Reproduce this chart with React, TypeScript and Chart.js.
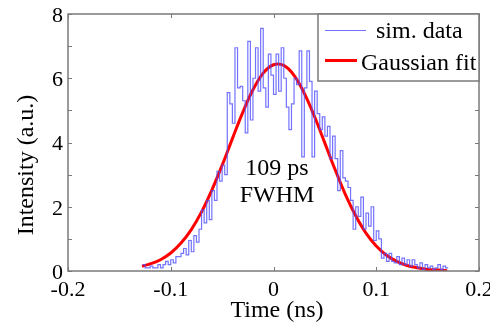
import React, { useEffect, useRef } from 'react';
import { Chart, registerables } from 'chart.js';

Chart.register(...registerables);

// Histogram ("sim. data"): bins start at HIST_START, width HIST_BIN (ns)
const HIST_START = -0.1275;
const HIST_BIN = 0.0025;
const histCounts = [
  0.2, 0.1, 0.1, 0.15, 0.1, 0.1, 0.2, 0.1, 0.2, 0.3,
  0.2, 0.35, 0.25, 0.45, 0.45, 0.55, 0.7, 0.5, 0.95, 0.6,
  1.1, 0.9, 1.3, 1.9, 1.5, 2.2, 1.6, 2.5, 2.2, 3.1,
  2.8, 3.3, 3.0, 5.55, 5.2, 4.6, 6.95, 5.7, 5.75, 5.3,
  4.3, 7.15, 4.7, 6.0, 6.95, 5.6, 7.55, 5.7, 5.1, 6.75,
  6.1, 5.5, 6.75, 5.6, 6.95, 6.0, 5.1, 4.4, 5.2, 6.0,
  5.8, 6.85, 3.55, 5.7, 6.85, 5.9, 3.55, 5.6, 4.9, 4.4,
  4.8, 4.2, 4.5, 3.5, 4.2, 3.5, 2.5, 3.75, 2.9, 2.8,
  2.6, 2.2, 1.3, 2.0, 1.7, 2.3, 1.3, 1.8, 1.4, 2.0,
  0.95, 1.25, 1.0, 0.4, 0.55, 0.3, 0.55, 0.3, 0.25, 0.45,
  0.2, 0.4, 0.2, 0.35, 0.15, 0.35, 0.2, 0.1, 0.25, 0.05,
  0.2, 0.1, 0.15, 0.05, 0.1, 0.2, 0.05, 0.15, 0.1,
];

// Gaussian fit curve
const fitTime = [
  -0.128, -0.12, -0.11, -0.1, -0.09, -0.08, -0.07, -0.06, -0.05, -0.04,
  -0.03, -0.02, -0.01, 0, 0.01, 0.02, 0.03, 0.04, 0.05, 0.06,
  0.07, 0.08, 0.09, 0.1, 0.11, 0.12, 0.13, 0.14, 0.15, 0.16, 0.169,
];
const fitValue = [
  0.15, 0.22, 0.35, 0.56, 0.87, 1.29, 1.84, 2.52, 3.29, 4.12,
  4.93, 5.64, 6.16, 6.42, 6.4, 6.09, 5.53, 4.8, 3.98, 3.15,
  2.38, 1.72, 1.18, 0.78, 0.49, 0.3, 0.17, 0.1, 0.05, 0.03, 0.01,
];

const xAxisTitle = 'Time (ns)';
const yAxisTitle = 'Intensity (a.u.)';
const legendLabels = ['sim. data', 'Gaussian fit'];
const annotationLines = ['109 ps', 'FWHM'];

const SERIF = '"Liberation Serif", "Times New Roman", serif';
const BLUE = 'rgba(80,80,255,0.8)';
const RED = '#ff0000';
const FRAME = '#7a7a7a';

const decorPlugin = {
  id: 'decor',
  afterDatasetsDraw(chart: any) {
    const { ctx, chartArea: a, scales } = chart;
    const x = scales.x;
    const y = scales.y;
    ctx.save();
    // ticks (inward, both sides)
    ctx.strokeStyle = FRAME;
    ctx.lineWidth = 1;
    const tl = 4;
    x.ticks.forEach((t: any) => {
      const px = Math.round(x.getPixelForValue(t.value)) + 0.5;
      ctx.beginPath();
      ctx.moveTo(px, a.bottom);
      ctx.lineTo(px, a.bottom - tl);
      ctx.moveTo(px, a.top);
      ctx.lineTo(px, a.top + tl);
      ctx.stroke();
    });
    y.ticks.forEach((t: any) => {
      const py = Math.round(y.getPixelForValue(t.value)) + 0.5;
      ctx.beginPath();
      ctx.moveTo(a.left, py);
      ctx.lineTo(a.left + tl, py);
      ctx.moveTo(a.right, py);
      ctx.lineTo(a.right - tl, py);
      ctx.stroke();
    });
    // frame
    ctx.lineWidth = 1.5;
    ctx.strokeRect(a.left, a.top, a.right - a.left, a.bottom - a.top);

    // legend
    const lx = 318;
    const ly = a.top;
    const lw = a.right - lx;
    const lh = 67;
    ctx.fillStyle = '#ffffff';
    ctx.fillRect(lx, ly, lw, lh);
    ctx.strokeStyle = FRAME;
    ctx.lineWidth = 1.5;
    ctx.strokeRect(lx, ly, lw, lh);
    ctx.lineWidth = 1.2;
    ctx.strokeStyle = BLUE;
    ctx.beginPath();
    ctx.moveTo(325, 30.5);
    ctx.lineTo(366, 30.5);
    ctx.stroke();
    ctx.lineWidth = 3;
    ctx.strokeStyle = RED;
    ctx.beginPath();
    ctx.moveTo(325, 60.5);
    ctx.lineTo(357, 60.5);
    ctx.stroke();
    ctx.fillStyle = '#000';
    ctx.font = `24px ${SERIF}`;
    ctx.textAlign = 'left';
    ctx.textBaseline = 'alphabetic';
    ctx.fillText(legendLabels[0], 376, 38);
    ctx.fillText(legendLabels[1], 361, 70);

    // annotation
    ctx.textAlign = 'center';
    ctx.fillText(annotationLines[0], 277, 175);
    ctx.fillText(annotationLines[1], 277, 202);

    // axis titles
    ctx.fillText(xAxisTitle, 277, 317);
    ctx.save();
    ctx.translate(33, 165);
    ctx.rotate(-Math.PI / 2);
    ctx.fillText(yAxisTitle, 0, 0);
    ctx.restore();

    ctx.restore();
  },
};

export default function App() {
  const ref = useRef<HTMLCanvasElement | null>(null);

  useEffect(() => {
    if (!ref.current) return;
    const histPoints = histCounts.map((v, i) => ({ x: HIST_START + i * HIST_BIN, y: v }));
    histPoints.push({
      x: HIST_START + histCounts.length * HIST_BIN,
      y: histCounts[histCounts.length - 1],
    });
    const fitPoints = fitTime.map((t, i) => ({ x: t, y: fitValue[i] }));

    const chart = new Chart(ref.current, {
      type: 'line',
      data: {
        datasets: [
          {
            label: legendLabels[0],
            data: histPoints,
            borderColor: BLUE,
            borderWidth: 1.2,
            pointRadius: 0,
            stepped: 'before',
            fill: false,
          },
          {
            label: legendLabels[1],
            data: fitPoints,
            borderColor: RED,
            borderWidth: 3,
            pointRadius: 0,
            tension: 0.4,
            fill: false,
          },
        ],
      },
      options: {
        responsive: false,
        animation: false,
        events: [],
        layout: { padding: { top: 14, right: 11, left: 0, bottom: 0 } },
        plugins: {
          legend: { display: false },
          tooltip: { enabled: false },
        },
        scales: {
          x: {
            type: 'linear',
            min: -0.2,
            max: 0.2,
            grid: { display: false, drawTicks: false },
            border: { display: false },
            ticks: {
              stepSize: 0.1,
              padding: 6,
              color: '#000',
              font: { family: SERIF, size: 22 },
              maxRotation: 0,
              callback: (v: any) => (Math.abs(Number(v)) < 1e-9 ? '0' : Number(v).toFixed(1)),
            },
            afterFit: (s: any) => {
              s.height = 51;
              s.paddingLeft = 0;
              s.paddingRight = 0;
            },
          },
          y: {
            type: 'linear',
            min: 0,
            max: 8,
            grid: { display: false, drawTicks: false },
            border: { display: false },
            ticks: {
              stepSize: 1,
              padding: 5,
              labelOffset: 2,
              color: '#000',
              font: { family: SERIF, size: 22 },
              callback: (v: any) => (Number(v) % 2 === 0 ? String(v) : ''),
            },
            afterFit: (s: any) => {
              s.width = 68;
              s.paddingTop = 0;
              s.paddingBottom = 0;
            },
          },
        },
      },
      plugins: [decorPlugin],
    } as any);
    return () => chart.destroy();
  }, []);

  return (
    <div style={{ position: 'absolute', left: 0, top: 0, width: 490, height: 322, background: '#fff' }}>
      <canvas ref={ref} width={490} height={322} />
    </div>
  );
}
